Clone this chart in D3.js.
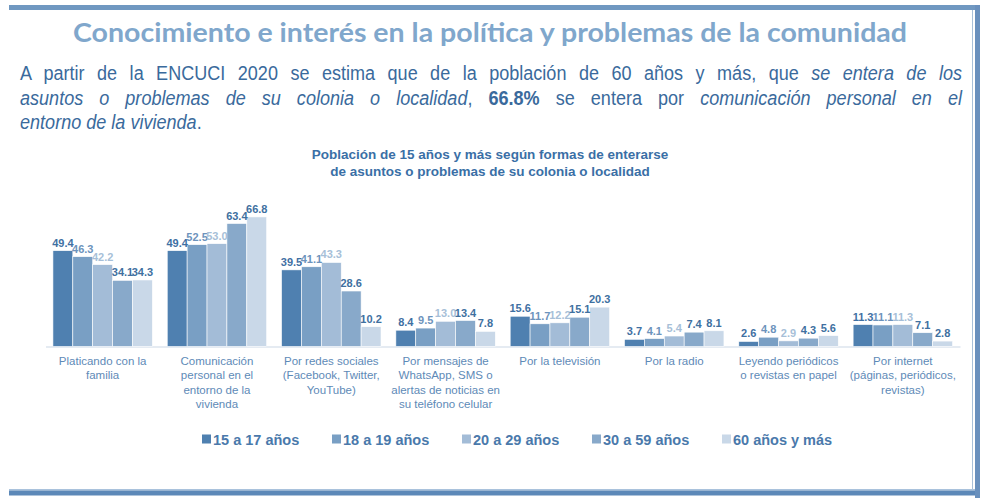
<!DOCTYPE html>
<html>
<head>
<meta charset="utf-8">
<script src="https://cdn.jsdelivr.net/npm/d3@7"></script>
<style>
  body { margin: 0; background: #fff; }
  svg { display: block; }
</style>
</head>
<body>
<div id="chart"></div>
<script>
// data
const categories = [
    ['Platicando con la', 'familia'],
    ['Comunicación', 'personal en el', 'entorno de la', 'vivienda'],
    ['Por redes sociales', '(Facebook, Twitter,', 'YouTube)'],
    ['Por mensajes de', 'WhatsApp, SMS o', 'alertas de noticias en', 'su teléfono celular'],
    ['Por la televisión'],
    ['Por la radio'],
    ['Leyendo periódicos', 'o revistas en papel'],
    ['Por internet', '(páginas, periódicos,', 'revistas)'],
];
const seriesNames = ['15 a 17 años', '18 a 19 años', '20 a 29 años', '30 a 59 años', '60 años y más'];
const s15a17 = [49.4, 49.4, 39.5, 8.4, 15.6, 3.7, 2.6, 11.3];
const s18a19 = [46.3, 52.5, 41.1, 9.5, 11.7, 4.1, 4.8, 11.1];
const s20a29 = [42.2, 53.0, 43.3, 13.0, 12.2, 5.4, 2.9, 11.3];
const s30a59 = [34.1, 63.4, 28.6, 13.4, 15.1, 7.4, 4.3, 7.1];
const s60mas = [34.3, 66.8, 10.2, 7.8, 20.3, 8.1, 5.6, 2.8];
const seriesValues = [s15a17, s18a19, s20a29, s30a59, s60mas];

const barColors = ['#4f80b0', '#799fc4', '#a3bcd7', '#88a9ca', '#c9d8e8'];
const labelColors = ['#3f70a3', '#6d93bc', '#a7bfd8', '#40709f', '#40709f'];

const W = 983, H = 498;
const svg = d3.select('#chart').append('svg').attr('width', W).attr('height', H);

// frame
svg.append('rect').attr('x', 9).attr('y', 5).attr('width', 967).attr('height', 5).attr('fill', '#7098c1');
svg.append('rect').attr('x', 972).attr('y', 10).attr('width', 1).attr('height', 480).attr('fill', '#a9c0d8');
svg.append('rect').attr('x', 975).attr('y', 5).attr('width', 5).attr('height', 493).attr('fill', '#6990bd');
svg.append('rect').attr('x', 9).attr('y', 489).attr('width', 966).attr('height', 1.5).attr('fill', '#a9c2dc');
svg.append('rect').attr('x', 9).attr('y', 490.5).attr('width', 966).attr('height', 5).attr('fill', '#5c88b8');

const arial = "'Liberation Sans', Arial, sans-serif";

// title (Calibri-like, squeezed horizontally)
const titleScale = 0.9;
svg.append('text')
    .attr('transform', 'translate(490,42) scale(' + titleScale + ',1)')
    .attr('text-anchor', 'middle')
    .attr('font-family', "Lato, 'Open Sans', sans-serif")
    .attr('font-weight', 'bold')
    .attr('font-size', 27)
    .attr('fill', '#80a7cc')
    .attr('textLength', 834 / titleScale).attr('lengthAdjust', 'spacingAndGlyphs')
    .text('Conocimiento e interés en la política y problemas de la comunidad');

// paragraph (Arial Narrow-like, squeezed horizontally, justified by word spacing)
const paraScale = 0.86;
const para = [
    { y: 80, len: 942, parts: [
        ['A partir de la ENCUCI 2020 se estima que de la población de 60 años y más, que ', 'normal', 'normal'],
        ['se entera de los', 'italic', 'normal']] },
    { y: 105, len: 942, parts: [
        ['asuntos o problemas de su colonia o localidad', 'italic', 'normal'],
        [', ', 'normal', 'normal'],
        ['66.8%', 'normal', 'bold'],
        [' se entera por ', 'normal', 'normal'],
        ['comunicación personal en el', 'italic', 'normal']] },
    { y: 129, len: null, parts: [
        ['entorno de la vivienda', 'italic', 'normal'],
        ['.', 'normal', 'normal']] },
];
para.forEach(line => {
    const t = svg.append('text')
        .attr('transform', 'translate(20,' + line.y + ') scale(' + paraScale + ',1)')
        .attr('font-family', arial)
        .attr('font-size', 21)
        .attr('fill', '#3a6a9c')
        .attr('xml:space', 'preserve');
    line.parts.forEach(p => {
        t.append('tspan').attr('font-style', p[1]).attr('font-weight', p[2]).text(p[0]);
    });
    if (line.len) {
        const natural = t.node().getComputedTextLength();
        const spaces = line.parts.map(p => p[0]).join('').split(' ').length - 1;
        const extra = (line.len / paraScale - natural) / spaces;
        t.attr('word-spacing', extra);
    }
});

// chart title
const chartTitle = ['Población de 15 años y más según formas de enterarse', 'de asuntos o problemas de su colonia o localidad'];
svg.selectAll('.ctitle').data(chartTitle).enter().append('text')
    .attr('x', 490).attr('y', (d, i) => 159 + i * 17)
    .attr('text-anchor', 'middle')
    .attr('font-family', arial)
    .attr('font-weight', 'bold')
    .attr('font-size', 13.5)
    .attr('fill', '#3a6fa6')
    .text(d => d);

// scales
const x0 = d3.scaleBand().domain(d3.range(categories.length)).range([45.5, 960])
    .paddingInner(0.13).paddingOuter(0.065);
const x1 = d3.scaleBand().domain(d3.range(seriesNames.length)).range([0, x0.bandwidth()]);
const y = d3.scaleLinear().domain([0, 70]).range([346.5, 346.5 - 70 * 1.94]);

// axis baseline
svg.append('g')
    .attr('transform', 'translate(0,' + y(0) + ')')
    .call(d3.axisBottom(x0).tickSize(0).tickFormat(''))
    .call(g => g.select('.domain').attr('stroke', '#dde5ee').attr('stroke-width', 1.5));

const groups = svg.selectAll('.grp').data(categories).enter().append('g')
    .attr('transform', (d, i) => 'translate(' + x0(i) + ',0)');

groups.each(function (cat, ci) {
    const g = d3.select(this);
    seriesValues.forEach((vals, si) => {
        const v = vals[ci];
        g.append('rect')
            .attr('x', x1(si)).attr('y', y(v))
            .attr('width', x1.bandwidth()).attr('height', y(0) - y(v))
            .attr('fill', barColors[si])
            .attr('stroke', '#fff').attr('stroke-width', 0.6);
    });
    seriesValues.forEach((vals, si) => {
        const v = vals[ci];
        g.append('text')
            .attr('x', x1(si) + x1.bandwidth() / 2).attr('y', y(v) - 4)
            .attr('text-anchor', 'middle')
            .attr('font-family', arial)
            .attr('font-weight', 'bold')
            .attr('font-size', 11)
            .attr('fill', labelColors[si])
            .text(v.toFixed(1));
    });
    g.selectAll('.cat').data(cat).enter().append('text')
        .attr('x', x0.bandwidth() / 2).attr('y', (d, i) => 365 + i * 14.3)
        .attr('text-anchor', 'middle')
        .attr('font-family', arial)
        .attr('font-size', 11.5)
        .attr('fill', '#5e8ab7')
        .text(d => d);
});

// legend
const legend = svg.selectAll('.leg').data(seriesNames).enter().append('g')
    .attr('transform', (d, i) => 'translate(' + (202 + i * 130) + ',439)');
legend.append('rect').attr('x', 0).attr('y', -4.5).attr('width', 9).attr('height', 9)
    .attr('fill', (d, i) => barColors[i]);
legend.append('text').attr('x', 11).attr('y', 5.5)
    .attr('font-family', arial)
    .attr('font-weight', 'bold')
    .attr('font-size', 14.5)
    .attr('fill', '#4a79ab')
    .text(d => d);
</script>
</body>
</html>
